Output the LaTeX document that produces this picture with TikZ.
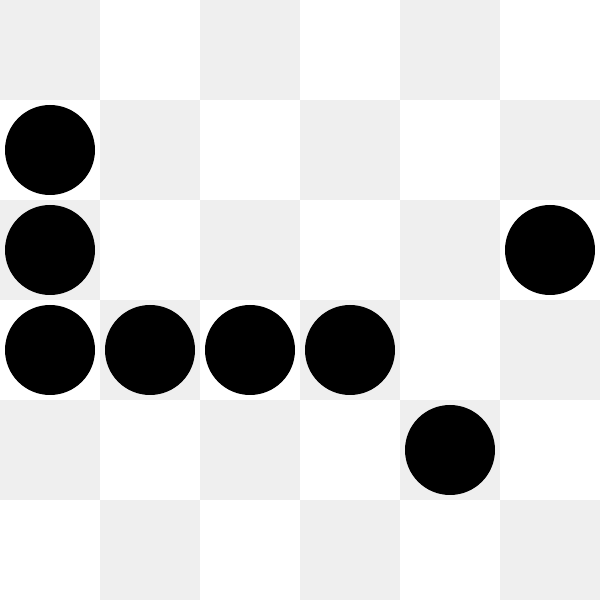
\documentclass[tikz,border=0pt]{standalone}
\definecolor{cellgray}{RGB}{239,239,239}
\begin{document}
\begin{tikzpicture}[x=1cm,y=1cm,
  stone/.style={circle,fill=black,inner sep=0pt,minimum size=0.9cm}]
\useasboundingbox (0,0) rectangle (6,6);
\fill[white] (0,0) rectangle (6,6);
\foreach \r in {0,...,5}{
  \foreach \c in {0,...,5}{
    \pgfmathtruncatemacro{\s}{mod(\r+\c,2)}
    \ifnum\s=0
      \fill[cellgray] (\c,6-\r) rectangle (\c+1,5-\r);
    \fi
  }
}
\node[stone] (s1) at (0.5,4.5) {};
\node[stone] (s2) at (0.5,3.5) {};
\node[stone] (s3) at (0.5,2.5) {};
\node[stone] (s4) at (1.5,2.5) {};
\node[stone] (s5) at (2.5,2.5) {};
\node[stone] (s6) at (3.5,2.5) {};
\node[stone] (s7) at (5.5,3.5) {};
\node[stone] (s8) at (4.5,1.5) {};
\end{tikzpicture}
\end{document}
